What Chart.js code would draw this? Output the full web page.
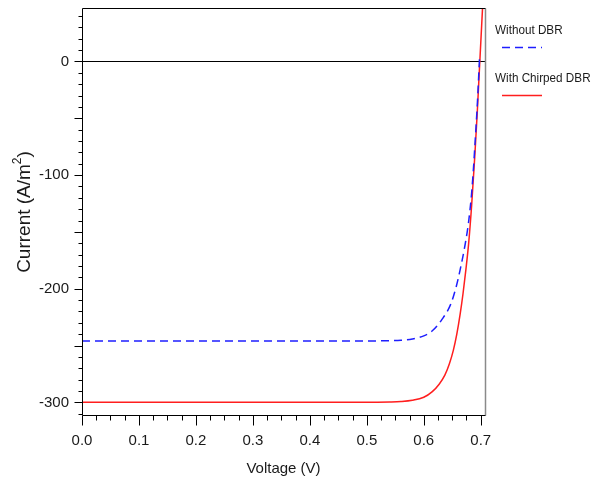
<!DOCTYPE html>
<html>
<head>
<meta charset="utf-8">
<script src="https://cdn.jsdelivr.net/npm/chart.js@4/dist/chart.umd.min.js"></script>
<style>
  body { margin: 0; background: #fff; }
  canvas { display: block; }
</style>
</head>
<body>
<canvas id="ivChart" width="598" height="487"></canvas>
<script>
// J-V curves of the cell, with and without the chirped DBR
const voltageNoDbr = [0, 0.1, 0.2, 0.3, 0.4, 0.5, 0.54, 0.56, 0.58, 0.6, 0.615, 0.632, 0.647, 0.656, 0.664, 0.673, 0.679, 0.684, 0.687, 0.69, 0.694, 0.698];
const currentNoDbr = [-246, -246, -246, -246, -246, -246, -245.7, -245.3, -244.2, -241.5, -237, -227, -214, -200, -183, -160, -140, -116, -96, -72, -38, 4];

const voltageChirped = [0, 0.1, 0.2, 0.3, 0.4, 0.5, 0.54, 0.56, 0.58, 0.6, 0.615, 0.627, 0.637, 0.645, 0.652, 0.658, 0.664, 0.669, 0.674, 0.679, 0.684, 0.6895, 0.694, 0.698, 0.7035];
const currentChirped = [-300, -300, -300, -300, -300, -300, -299.7, -299.3, -298.2, -295.5, -290.5, -284, -276, -266, -254, -240, -222, -204, -183, -159, -127, -84, -44, -4, 50];

const seriesLabels = ['Without DBR', 'With Chirped DBR'];
const xTickLabels = ['0.0', '0.1', '0.2', '0.3', '0.4', '0.5', '0.6', '0.7'];
const yTickLabels = ['-300', '-200', '-100', '0'];

const FONT = "'Liberation Sans', Arial, sans-serif";
const TEXT = '#1a1a1a';

function points(xs, ys) {
  return xs.map((v, i) => ({ x: v, y: ys[i] }));
}

function isMultiple(v, step) {
  const r = v / step;
  return Math.abs(r - Math.round(r)) < 1e-6;
}

// axis frame, zero line, tick marks, axis titles and the legend
const framePlugin = {
  id: 'frame',
  beforeDatasetsDraw(chart) {
    const { ctx, chartArea: a, scales: { y } } = chart;
    const y0 = Math.round(y.getPixelForValue(0)) + 0.5;
    ctx.save();
    ctx.strokeStyle = '#000';
    ctx.lineWidth = 1;
    ctx.beginPath();
    ctx.moveTo(a.left, y0);
    ctx.lineTo(a.right, y0);
    ctx.stroke();
    ctx.restore();
  },
  afterDraw(chart) {
    const { ctx, chartArea: a, scales: { x, y } } = chart;
    const L = a.left + 0.5, R = a.right + 0.5, T = a.top + 0.5, B = a.bottom - 0.5;
    ctx.save();

    // right edge is grey, the rest black
    ctx.strokeStyle = '#8a8a8a';
    ctx.lineWidth = 1.5;
    ctx.beginPath();
    ctx.moveTo(R, T);
    ctx.lineTo(R, B);
    ctx.stroke();

    ctx.lineWidth = 1;
    ctx.strokeStyle = '#000';
    ctx.beginPath();
    ctx.moveTo(R, T);
    ctx.lineTo(L, T);
    ctx.lineTo(L, B);
    ctx.lineTo(R, B);
    ctx.stroke();

    // y tick marks point outward
    ctx.beginPath();
    y.ticks.forEach(t => {
      const py = Math.round(y.getPixelForValue(t.value)) + 0.5;
      const len = isMultiple(t.value, 50) ? 8 : 4;
      ctx.moveTo(L, py);
      ctx.lineTo(L - len, py);
    });
    // x tick marks point down
    x.ticks.forEach(t => {
      const px = Math.round(x.getPixelForValue(t.value)) + 0.5;
      const len = isMultiple(t.value, 0.1) ? 10 : 5;
      ctx.moveTo(px, B);
      ctx.lineTo(px, B + len);
    });
    ctx.stroke();

    // axis titles
    ctx.fillStyle = TEXT;
    ctx.font = '15px ' + FONT;
    ctx.textAlign = 'center';
    ctx.textBaseline = 'middle';
    ctx.fillText('Voltage (V)', (a.left + a.right) / 2, 469);

    ctx.save();
    ctx.translate(25, (a.top + a.bottom) / 2);
    ctx.rotate(-Math.PI / 2);
    const main = 'Current (A/m';
    ctx.font = '19px ' + FONT;
    const w1 = ctx.measureText(main).width;
    const w3 = ctx.measureText(')').width;
    ctx.font = '12px ' + FONT;
    const w2 = ctx.measureText('2').width;
    let sx = -(w1 + w2 + w3) / 2;
    ctx.textAlign = 'left';
    ctx.font = '19px ' + FONT;
    ctx.fillText(main, sx, 0);
    sx += w1;
    ctx.font = '12px ' + FONT;
    ctx.fillText('2', sx, -7);
    sx += w2;
    ctx.font = '19px ' + FONT;
    ctx.fillText(')', sx, 0);
    ctx.restore();

    // legend: label above a short line sample
    chart.data.datasets.forEach((ds, i) => {
      const top = 30 + i * 48;
      ctx.save();
      ctx.translate(495, top);
      ctx.scale(0.9, 1);
      ctx.font = '13px ' + FONT;
      ctx.textAlign = 'left';
      ctx.fillStyle = TEXT;
      ctx.fillText(ds.label, 0, 0);
      ctx.restore();
      ctx.strokeStyle = ds.borderColor;
      ctx.lineWidth = ds.borderWidth;
      ctx.setLineDash(ds.borderDash || []);
      ctx.beginPath();
      ctx.moveTo(502, top + 17.5);
      ctx.lineTo(542, top + 17.5);
      ctx.stroke();
      ctx.setLineDash([]);
    });
    ctx.restore();
  }
};

new Chart(document.getElementById('ivChart'), {
  type: 'scatter',
  data: {
    datasets: [
      {
        label: seriesLabels[0],
        data: points(voltageNoDbr, currentNoDbr),
        showLine: true,
        borderColor: 'rgb(30, 30, 255)',
        borderWidth: 1.5,
        borderDash: [8, 5],
        pointRadius: 0,
        cubicInterpolationMode: 'monotone'
      },
      {
        label: seriesLabels[1],
        data: points(voltageChirped, currentChirped),
        showLine: true,
        borderColor: 'rgb(255, 30, 30)',
        borderWidth: 1.5,
        pointRadius: 0,
        cubicInterpolationMode: 'monotone'
      }
    ]
  },
  options: {
    responsive: false,
    animation: false,
    events: [],
    layout: { padding: { top: 8, right: 113, left: 0, bottom: 0 } },
    plugins: {
      legend: { display: false },
      tooltip: { enabled: false }
    },
    scales: {
      x: {
        type: 'linear',
        min: 0,
        max: 0.7075,
        afterFit: s => {
          s.height = 71;
          s.paddingLeft = 0;
          s.paddingRight = 0;
        },
        grid: { display: true, drawOnChartArea: false, drawTicks: false, color: 'transparent' },
        border: { display: false },
        ticks: {
          stepSize: 0.025,
          includeBounds: false,
          autoSkip: false,
          maxRotation: 0,
          padding: 16,
          color: TEXT,
          font: { family: FONT, size: 15 },
          callback: v => {
            const lbl = v.toFixed(1);
            return isMultiple(v, 0.1) && xTickLabels.includes(lbl) ? lbl : '';
          }
        }
      },
      y: {
        min: -312,
        max: 47,
        afterFit: s => {
          s.width = 82;
          s.paddingTop = 0;
          s.paddingBottom = 0;
        },
        grid: { display: true, drawOnChartArea: false, drawTicks: false, color: 'transparent' },
        border: { display: false },
        ticks: {
          stepSize: 10,
          includeBounds: false,
          autoSkip: false,
          padding: 13,
          color: TEXT,
          font: { family: FONT, size: 15 },
          callback: v => {
            const lbl = String(Math.round(v));
            return isMultiple(v, 100) && yTickLabels.includes(lbl) ? lbl : '';
          }
        }
      }
    }
  },
  plugins: [framePlugin]
});
</script>
</body>
</html>
